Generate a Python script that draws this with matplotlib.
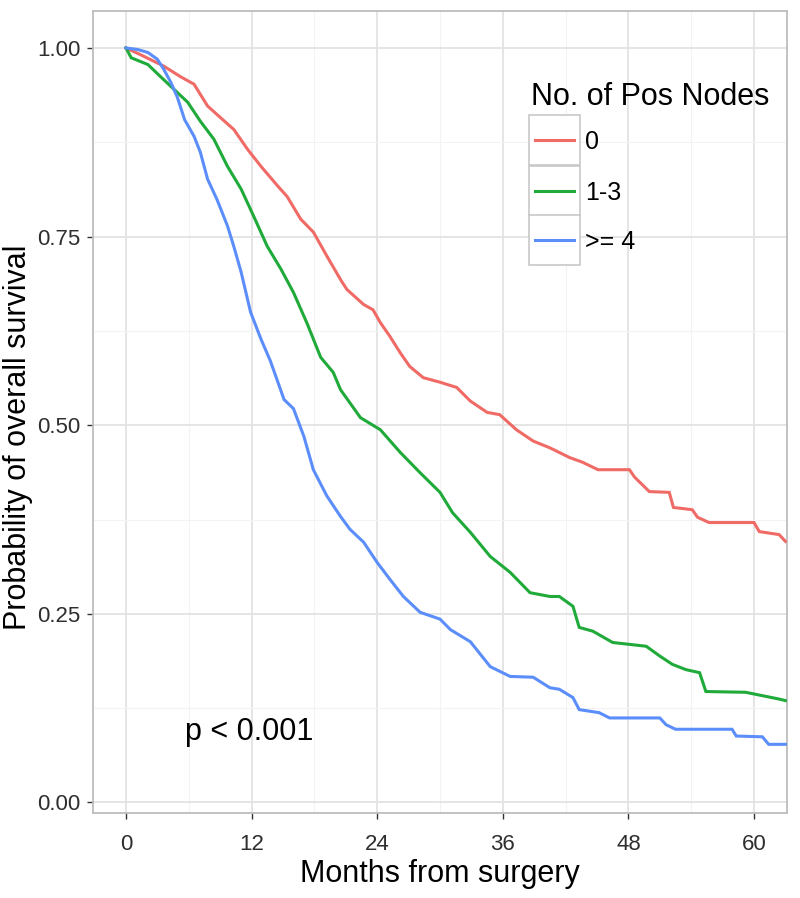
import matplotlib
matplotlib.use("Agg")
import matplotlib.pyplot as plt
from matplotlib.patches import Rectangle
from matplotlib.lines import Line2D

plt.rcParams['font.family'] = ['Liberation Sans', 'DejaVu Sans']

# ---- data ----
groups = ["0", "1-3", ">= 4"]
legend_title = "No. of Pos Nodes"

t_0 = [0, 1.4, 3.6, 5.2, 6.5, 7.8, 9.0, 10.3, 11.6, 12.9, 14.5, 15.4, 16.7, 17.9, 19.2, 20.5,
       21.1, 22.7, 23.6, 24.3, 25.2, 26.2, 27.1, 28.4, 30.0, 31.6, 32.9, 34.5, 35.7, 37.3, 38.9,
       40.5, 42.4, 43.6, 45.1, 48.1, 48.6, 50.0, 51.9, 52.3, 54.1, 54.6, 55.7, 60.0, 60.5, 62.4, 63.0]
s_0 = [1.0, 0.991, 0.976, 0.962, 0.952, 0.923, 0.908, 0.892, 0.866, 0.843, 0.817, 0.803, 0.773,
       0.756, 0.724, 0.693, 0.680, 0.660, 0.653, 0.636, 0.618, 0.596, 0.578, 0.563, 0.557, 0.550,
       0.532, 0.517, 0.514, 0.494, 0.479, 0.470, 0.457, 0.451, 0.441, 0.441, 0.431, 0.412, 0.411,
       0.391, 0.388, 0.378, 0.371, 0.371, 0.359, 0.355, 0.346]

t_13 = [0, 0.5, 2.1, 3.3, 4.6, 5.9, 7.1, 8.4, 9.7, 11.0, 12.2, 13.5, 14.8, 16.0, 17.3, 18.6, 19.8,
        20.5, 22.4, 24.3, 26.2, 28.1, 30.0, 31.2, 32.9, 34.8, 36.7, 38.6, 40.5, 41.4, 42.7, 43.3,
        44.6, 46.5, 49.7, 51.0, 52.2, 53.5, 54.8, 55.4, 59.2, 62.4, 63.0]
s_13 = [1.0, 0.987, 0.978, 0.962, 0.945, 0.928, 0.903, 0.879, 0.843, 0.813, 0.777, 0.737, 0.707,
        0.676, 0.635, 0.590, 0.570, 0.547, 0.510, 0.494, 0.464, 0.437, 0.411, 0.384, 0.358, 0.326,
        0.305, 0.278, 0.273, 0.273, 0.260, 0.232, 0.227, 0.212, 0.207, 0.194, 0.183, 0.176, 0.172,
        0.147, 0.146, 0.137, 0.135]

t_4 = [0, 1.1, 2.1, 3.0, 3.6, 4.3, 4.9, 5.6, 6.5, 7.1, 7.8, 8.7, 9.7, 10.3, 11.0, 11.9, 12.9, 13.8,
       15.1, 16.0, 17.0, 17.9, 19.2, 20.5, 21.4, 22.7, 24.0, 25.2, 26.5, 28.1, 30.0, 31.0, 32.9,
       34.8, 36.7, 38.9, 40.5, 41.4, 42.7, 43.3, 45.2, 46.2, 51.0, 51.6, 52.5, 57.9, 58.3, 60.8,
       61.4, 63.0]
s_4 = [1.0, 0.998, 0.994, 0.985, 0.972, 0.954, 0.935, 0.905, 0.883, 0.862, 0.826, 0.799, 0.764,
       0.737, 0.703, 0.650, 0.614, 0.585, 0.534, 0.522, 0.485, 0.441, 0.406, 0.379, 0.362, 0.345,
       0.318, 0.296, 0.273, 0.252, 0.243, 0.229, 0.213, 0.180, 0.167, 0.166, 0.152, 0.150, 0.139,
       0.123, 0.119, 0.112, 0.112, 0.103, 0.097, 0.097, 0.088, 0.087, 0.077, 0.077]

x_ticks = [0, 12, 24, 36, 48, 60]
y_ticks = [0.00, 0.25, 0.50, 0.75, 1.00]
y_ticklabels = ["0.00", "0.25", "0.50", "0.75", "1.00"]
pval_text = "p < 0.001"
pval_pos = (11.8, 0.093)

colors = ["#F06A66", "#1FAA3A", "#5B8EFA"]

W, H = 800, 898
fig = plt.figure(figsize=(W / 100, H / 100), dpi=100)
ax = fig.add_axes([93 / W, 1 - 813 / H, (787 - 93) / W, (813 - 11) / H])

for t, s, c in zip([t_0, t_13, t_4], [s_0, s_13, s_4], colors):
    ax.plot(t, s, color=c, lw=2.2, solid_joinstyle='miter', zorder=3)

ax.set_xlim(-3.15, 63.15)
ax.set_ylim(-0.014, 1.049)
ax.set_xticks(x_ticks)
ax.set_yticks(y_ticks)
ax.set_yticklabels(y_ticklabels)
ax.set_xticks([6, 18, 30, 42, 54], minor=True)
ax.set_yticks([0.125, 0.375, 0.625, 0.875], minor=True)
ax.grid(True, which='major', color='#E3E3E3', lw=1.3, zorder=0)
ax.grid(True, which='minor', color='#F3F3F3', lw=0.8, zorder=0)
ax.tick_params(which='minor', length=0)
ax.tick_params(which='major', direction='out', length=4, width=1.0, color='#333333',
               labelsize=16, labelcolor='#2E2E2E')
ax.tick_params(axis='x', pad=11)
ax.tick_params(axis='y', pad=5)
for sp in ax.spines.values():
    sp.set_color('#BDBDBD')
    sp.set_linewidth(1.3)

# ---- legend/axis text helpers (figure pixel coords) ----
def fx(px):
    return px / W

def fy(py):
    return 1 - py / H

fig.text(fx(440), fy(874), "Months from surgery", fontsize=22, ha='center', va='center')
fig.text(fx(18), fy(437), "Probability of overall survival", fontsize=22,
         ha='center', va='center', rotation=90)

ax.text(pval_pos[0], pval_pos[1], pval_text, fontsize=22, ha='center', va='center')

fig.text(fx(531), fy(97), legend_title, fontsize=22, ha='left', va='center')
row_tops = [115, 166, 215]
row_h = 50
for i, (lab, c) in enumerate(zip(groups, colors)):
    top = row_tops[i]
    fig.patches.append(Rectangle((fx(529), fy(top + row_h)), fx(580) - fx(529), fy(top) - fy(top + row_h),
                                 transform=fig.transFigure, facecolor='white',
                                 edgecolor='#C8C8C8', lw=1.2, zorder=5))
    yc = top + row_h / 2
    fig.lines.append(Line2D([fx(535), fx(574)], [fy(yc), fy(yc)], transform=fig.transFigure,
                            color=c, lw=2.2, zorder=6))
    fig.text(fx(585), fy(yc + 2), lab, fontsize=18, ha='left', va='center', zorder=6)

fig.savefig("out.png", dpi=100, facecolor='white')
